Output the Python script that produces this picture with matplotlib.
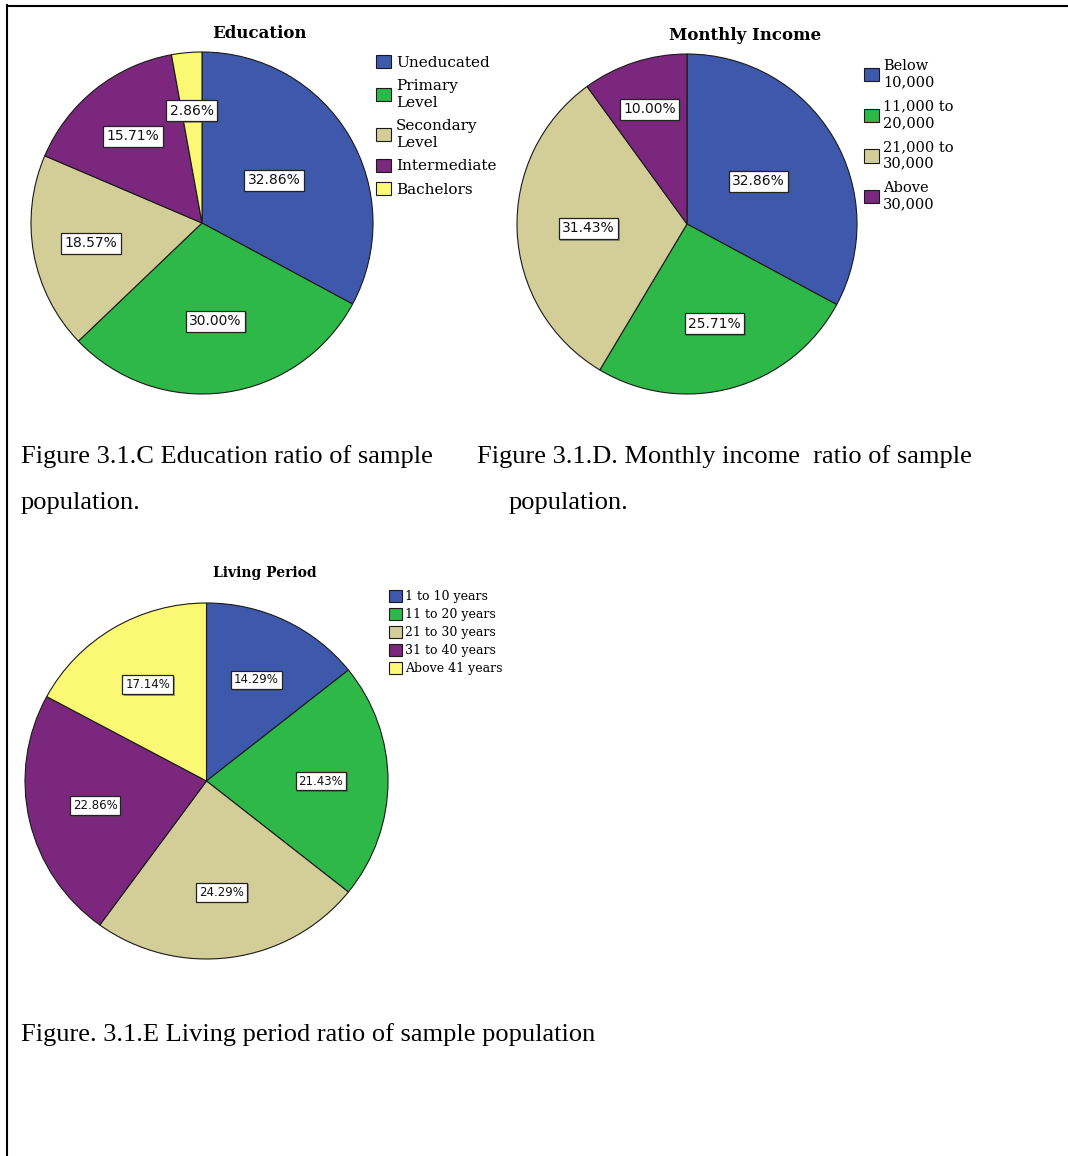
import matplotlib
matplotlib.use("Agg")
import numpy as np
import matplotlib.pyplot as plt
from matplotlib.lines import Line2D
from matplotlib import patheffects as pe

# ---- data ------------------------------------------------------------
edu_labels = ["Uneducated", "Primary\nLevel", "Secondary\nLevel", "Intermediate", "Bachelors"]
edu_values = [32.86, 30.00, 18.57, 15.71, 2.86]

inc_labels = ["Below\n10,000", "11,000 to\n20,000", "21,000 to\n30,000", "Above\n30,000"]
inc_values = [32.86, 25.71, 31.43, 10.00]

liv_labels = ["1 to 10 years", "11 to 20 years", "21 to 30 years", "31 to 40 years", "Above 41 years"]
liv_values = [14.29, 21.43, 24.29, 22.86, 17.14]

# ---- style -----------------------------------------------------------
BLUE, GREEN, TAN, PURPLE, YELLOW = "#3E58AC", "#2EB848", "#D3CE97", "#7B277D", "#FBF873"
edu_colors = [BLUE, GREEN, TAN, PURPLE, YELLOW]
inc_colors = [BLUE, GREEN, TAN, PURPLE]
liv_colors = [BLUE, GREEN, TAN, PURPLE, YELLOW]

# radial position of each percentage box (fraction of radius)
edu_lab_r = [0.49, 0.58, 0.66, 0.65, 0.66]
inc_lab_r = [0.49, 0.61, 0.58, 0.71]
liv_lab_r = [0.63] * 5

W, H = 1068, 1156
fig = plt.figure(figsize=(W / 100, H / 100), dpi=100)
fig.patch.set_facecolor("white")


def px_axes(left, top, w, h):
    return fig.add_axes([left / W, 1 - (top + h) / H, w / W, h / H])


def fx(x):
    return x / W


def fy(y):
    return 1 - y / H


def draw_pie(ax, values, colors, lab_r, lab_size):
    wedges, _ = ax.pie(values, colors=colors, startangle=90, counterclock=False,
                       wedgeprops=dict(edgecolor="#1a1a1a", linewidth=0.8))
    for w, v, r in zip(wedges, values, lab_r):
        mid = np.deg2rad((w.theta1 + w.theta2) / 2)
        t = ax.text(r * np.cos(mid), r * np.sin(mid), f"{v:.2f}%",
                    ha="center", va="center", fontsize=lab_size,
                    family="DejaVu Sans", color="#111111",
                    bbox=dict(boxstyle="square,pad=0.25", fc="white",
                              ec="#222222", lw=0.9))
        t.get_bbox_patch().set_path_effects(
            [pe.SimplePatchShadow(offset=(1.2, -1.2), alpha=0.5), pe.Normal()])
    ax.set_xlim(-1, 1)
    ax.set_ylim(-1, 1)
    ax.set_aspect("auto")
    ax.axis("off")
    return wedges


# ---- Education -------------------------------------------------------
ax1 = px_axes(31, 52, 342, 342)
w1 = draw_pie(ax1, edu_values, edu_colors, edu_lab_r, 10)
fig.text(fx(259), fy(33), "Education", ha="center", va="center",
         family="DejaVu Serif", fontweight="bold", fontsize=12)
leg1 = fig.legend(w1, edu_labels, loc="upper left", bbox_to_anchor=(fx(376), fy(55)),
                  frameon=False, borderpad=0, borderaxespad=0, handlelength=0.95,
                  handleheight=0.95, handletextpad=0.35, labelspacing=0.58,
                  prop=dict(family="DejaVu Serif", size=11))
for t in leg1.get_texts():
    t.set_linespacing(1.28)

# ---- Monthly income --------------------------------------------------
ax2 = px_axes(517, 54, 340, 340)
w2 = draw_pie(ax2, inc_values, inc_colors, inc_lab_r, 10)
fig.text(fx(745), fy(36), "Monthly Income", ha="center", va="center",
         family="DejaVu Serif", fontweight="bold", fontsize=12)
fig.legend(w2, inc_labels, loc="upper left", bbox_to_anchor=(fx(864), fy(59)),
           frameon=False, borderpad=0, borderaxespad=0, handlelength=1.05,
           handleheight=1.05, handletextpad=0.25, labelspacing=0.72,
           prop=dict(family="DejaVu Serif", size=10.5))

# ---- Living period ---------------------------------------------------
ax3 = px_axes(25, 603, 363, 356)
w3 = draw_pie(ax3, liv_values, liv_colors, liv_lab_r, 8.5)
fig.text(fx(265), fy(573), "Living Period", ha="center", va="center",
         family="DejaVu Serif", fontweight="bold", fontsize=10)
fig.legend(w3, liv_labels, loc="upper left", bbox_to_anchor=(fx(389), fy(590)),
           frameon=False, borderpad=0, borderaxespad=0, handlelength=1.05,
           handleheight=1.05, handletextpad=0.2, labelspacing=0.4,
           prop=dict(family="DejaVu Serif", size=9))

# ---- captions --------------------------------------------------------
cap = dict(family="Liberation Serif", fontsize=19, va="baseline", ha="left")
fig.text(fx(21), fy(463), "Figure 3.1.C Education ratio of sample", **cap)
fig.text(fx(21), fy(509), "population.", **cap)
fig.text(fx(477), fy(463), "Figure 3.1.D. Monthly income  ratio of sample", **cap)
fig.text(fx(509), fy(509), "population.", **cap)
fig.text(fx(21), fy(1041), "Figure. 3.1.E Living period ratio of sample population", **cap)

# ---- table frame -----------------------------------------------------
fig.add_artist(Line2D([fx(7), fx(497)], [fy(5.5), fy(5.5)], color="black", lw=1.5))
fig.add_artist(Line2D([fx(497), 1.0], [fy(6), fy(6)], color="black", lw=1.5))
fig.add_artist(Line2D([fx(7), fx(7)], [fy(5), 0.0], color="black", lw=1.5))

fig.savefig("out.png", dpi=100, facecolor="white")
